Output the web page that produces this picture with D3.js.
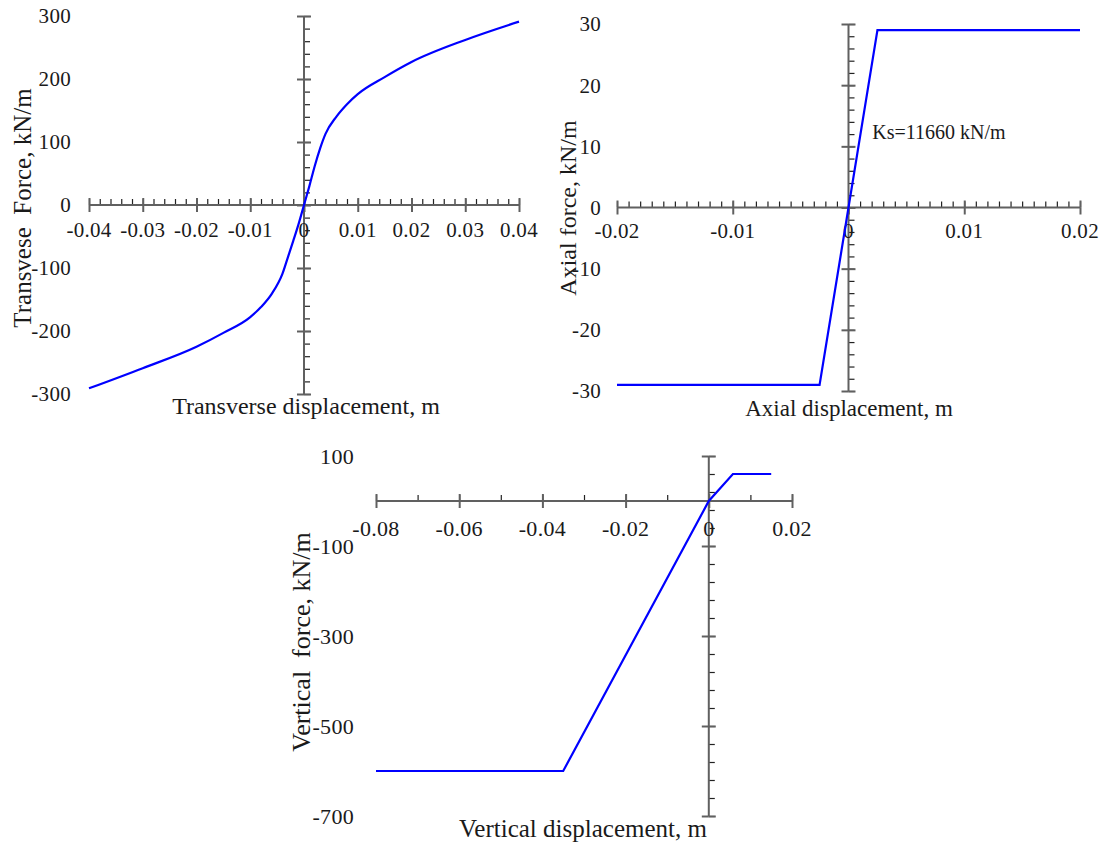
<!DOCTYPE html>
<html>
<head>
<meta charset="utf-8">
<script src="https://cdn.jsdelivr.net/npm/d3@7"></script>
<style>
  body { margin: 0; background: #fff; }
  svg { font-family: "Liberation Serif", "DejaVu Serif", serif; }
</style>
</head>
<body>
<div id="chart"></div>
<script>
// transverse spring curve
var transDisp  = [-0.04, -0.03, -0.02, -0.015, -0.01, -0.008, -0.006, -0.004, -0.003, -0.002, -0.001, 0, 0.001, 0.002, 0.003, 0.004, 0.006, 0.008, 0.01, 0.015, 0.02, 0.03, 0.04];
var transForce = [-291, -259, -225, -203, -178, -162, -141, -109, -83, -57, -30, 0, 30, 62, 90, 113, 140, 160, 176, 203, 227, 262, 291];
// axial spring
var axialDisp  = [-0.02, -0.0025, 0.0025, 0.02];
var axialForce = [-29, -29, 29, 29];
// vertical spring
var vertDisp  = [-0.08, -0.035, 0, 0.0058, 0.015];
var vertForce = [-600, -600, 0, 60, 60];

var transXTicks = [-0.04, -0.03, -0.02, -0.01, 0, 0.01, 0.02, 0.03, 0.04];
var transXLabels = ["-0.04", "-0.03", "-0.02", "-0.01", "0", "0.01", "0.02", "0.03", "0.04"];
var transYTicks = [300, 200, 100, 0, -100, -200, -300];
var axialXTicks = [-0.02, -0.01, 0, 0.01, 0.02];
var axialXLabels = ["-0.02", "-0.01", "0", "0.01", "0.02"];
var axialYTicks = [30, 20, 10, 0, -10, -20, -30];
var vertXTicks = [-0.08, -0.06, -0.04, -0.02, 0, 0.02];
var vertXLabels = ["-0.08", "-0.06", "-0.04", "-0.02", "0", "0.02"];
var vertYTicks = [100, -100, -300, -500, -700];

var svg = d3.select('#chart').append('svg')
    .attr('width', 1103)
    .attr('height', 843);

const axisColor = '#606060';
const textColor = '#1a1a1a';

function panel(o) {
    var x = d3.scaleLinear().domain(o.xDomain).range(o.xRange);
    var y = d3.scaleLinear().domain(o.yDomain).range(o.yRange);
    var g = svg.append('g');
    var x0 = x(0), y0 = y(0);

    var xMinor = d3.range(o.xDomain[0], o.xDomain[1] + o.xMinorStep / 2, o.xMinorStep);
    var yMinor = d3.range(o.yDomain[0], o.yDomain[1] + o.yMinorStep / 2, o.yMinorStep);

    // minor ticks
    g.append('g').attr('transform', 'translate(0,' + y0 + ')')
        .call(d3.axisTop(x).tickValues(xMinor).tickSize(6).tickSizeOuter(0).tickFormat(''))
        .call(function(a) { a.select('.domain').remove(); a.selectAll('line').attr('stroke', '#222').attr('stroke-width', 1.2); });
    g.append('g').attr('transform', 'translate(' + x0 + ',0)')
        .call(d3.axisRight(y).tickValues(yMinor).tickSize(6).tickSizeOuter(0).tickFormat(''))
        .call(function(a) { a.select('.domain').remove(); a.selectAll('line').attr('stroke', '#222').attr('stroke-width', 1.2); });

    // major ticks, both sides of the line
    [d3.axisTop, d3.axisBottom].forEach(function(f) {
        g.append('g').attr('transform', 'translate(0,' + y0 + ')')
            .call(f(x).tickValues(o.xTicks).tickSize(7).tickSizeOuter(0).tickFormat(''))
            .call(function(a) { a.select('.domain').remove(); a.selectAll('line').attr('stroke', axisColor).attr('stroke-width', 2); });
    });
    [d3.axisLeft, d3.axisRight].forEach(function(f) {
        g.append('g').attr('transform', 'translate(' + x0 + ',0)')
            .call(f(y).tickValues(o.yTicks).tickSize(7).tickSizeOuter(0).tickFormat(''))
            .call(function(a) { a.select('.domain').remove(); a.selectAll('line').attr('stroke', axisColor).attr('stroke-width', 2); });
    });

    // axis lines
    g.append('line').attr('x1', x(o.xDomain[0])).attr('x2', x(o.xDomain[1]))
        .attr('y1', y0).attr('y2', y0).attr('stroke', axisColor).attr('stroke-width', 2);
    g.append('line').attr('x1', x0).attr('x2', x0)
        .attr('y1', y(o.yDomain[0])).attr('y2', y(o.yDomain[1])).attr('stroke', axisColor).attr('stroke-width', 2);

    // tick labels
    g.selectAll('.xl').data(o.xTicks).enter().append('text')
        .attr('x', function(d) { return x(d); })
        .attr('y', y0 + o.xLabelOffset)
        .attr('text-anchor', 'middle')
        .attr('dy', '0.35em')
        .style('font-size', o.tickFont + 'px')
        .style('letter-spacing', '0.3px')
        .attr('fill', textColor)
        .text(function(d, i) { return o.xLabels[i]; });
    g.selectAll('.yl').data(o.yTicks).enter().append('text')
        .attr('x', o.yLabelX)
        .attr('y', function(d) { return y(d); })
        .attr('text-anchor', 'end')
        .attr('dy', '0.35em')
        .style('font-size', o.tickFont + 'px')
        .style('letter-spacing', '0.3px')
        .attr('fill', textColor)
        .text(function(d) { return d; });

    // titles
    g.append('text')
        .attr('x', o.xTitle[1]).attr('y', o.xTitle[2])
        .attr('text-anchor', 'middle').attr('dy', '0.35em')
        .style('font-size', o.xTitle[3] + 'px').attr('fill', textColor)
        .text(o.xTitle[0]);
    g.append('text')
        .attr('transform', 'translate(' + o.yTitle[1] + ',' + o.yTitle[2] + ') rotate(-90)')
        .attr('text-anchor', 'middle').attr('dy', '0.35em')
        .style('font-size', o.yTitle[3] + 'px').attr('fill', textColor)
        .style('white-space', 'pre')
        .text(o.yTitle[0]);

    // curve
    var line = d3.line()
        .x(function(d) { return x(d[0]); })
        .y(function(d) { return y(d[1]); })
        .curve(o.curve || d3.curveLinear);
    g.append('path')
        .datum(o.xs.map(function(v, i) { return [v, o.ys[i]]; }))
        .attr('d', line)
        .attr('fill', 'none')
        .attr('stroke', '#0000ff')
        .attr('stroke-width', 2.2);

    return { g: g, x: x, y: y };
}

panel({
    xDomain: [-0.04, 0.04], xRange: [89, 519],
    yDomain: [-300, 300], yRange: [394, 16],
    xMinorStep: 0.002, yMinorStep: 20,
    xTicks: transXTicks, xLabels: transXLabels, yTicks: transYTicks,
    xLabelOffset: 25, yLabelX: 71, tickFont: 21,
    xTitle: ['Transverse displacement, m', 306, 406, 24],
    yTitle: ['Transvese  Force, kN/m', 22, 208, 25],
    xs: transDisp, ys: transForce, curve: d3.curveMonotoneX
});

var p2 = panel({
    xDomain: [-0.02, 0.02], xRange: [617, 1080],
    yDomain: [-30, 30], yRange: [391, 24],
    xMinorStep: 0.001, yMinorStep: 2,
    xTicks: axialXTicks, xLabels: axialXLabels, yTicks: axialYTicks,
    xLabelOffset: 23, yLabelX: 601, tickFont: 21,
    xTitle: ['Axial displacement, m', 849, 408, 23],
    yTitle: ['Axial force, kN/m', 568, 208, 24],
    xs: axialDisp, ys: axialForce
});
p2.g.append('text')
    .attr('x', p2.x(0.00205)).attr('y', p2.y(11.2))
    .style('font-size', '20px').attr('fill', textColor)
    .text('Ks=11660 kN/m');

panel({
    xDomain: [-0.08, 0.02], xRange: [376, 792],
    yDomain: [-700, 100], yRange: [816, 456],
    xMinorStep: 0.01, yMinorStep: 40,
    xTicks: vertXTicks, xLabels: vertXLabels, yTicks: vertYTicks,
    xLabelOffset: 27, yLabelX: 354, tickFont: 22,
    xTitle: ['Vertical displacement, m', 583, 828, 25],
    yTitle: ['Vertical  force, kN/m', 301, 642, 26],
    xs: vertDisp, ys: vertForce
});
</script>
</body>
</html>
